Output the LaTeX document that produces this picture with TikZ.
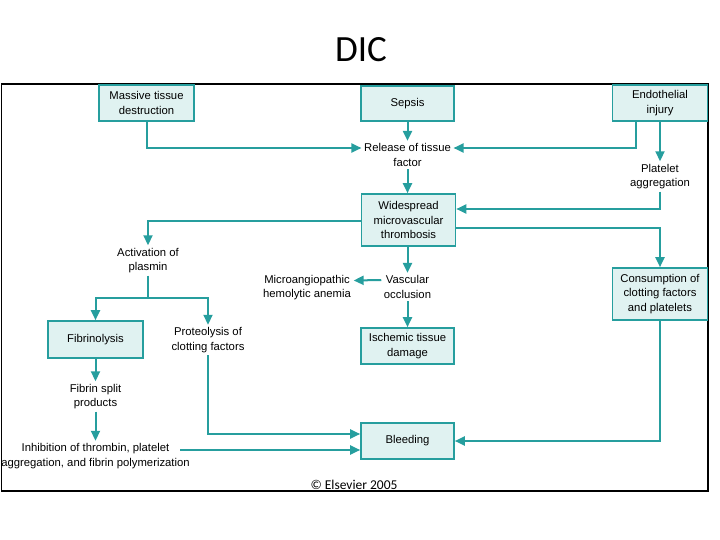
\documentclass[tikz,border=0pt]{standalone}
\usepackage{fontspec}
\setmainfont{Liberation Sans}
\newfontfamily\titlefont{Carlito}
\usetikzlibrary{arrows.meta,calc}
\definecolor{tealline}{RGB}{38,158,158}
\definecolor{tealfill}{RGB}{224,242,241}
\tikzset{
  boxnode/.style={draw=tealline, fill=tealfill, line width=1.6pt, align=center,
    inner sep=0pt, font=\fontsize{11.3}{14.5}\selectfont},
  txtnode/.style={align=center, inner sep=2.5pt, font=\fontsize{11.3}{14.5}\selectfont},
  arr/.style={draw=tealline, line width=2pt, -{Triangle[length=10pt,width=9pt]}},
  ln/.style={draw=tealline, line width=2pt},
}
\begin{document}
\begin{tikzpicture}[x=1pt,y=-1pt]
\useasboundingbox (0,0) rectangle (720,540);
% title
\node[font=\titlefont\fontsize{37}{40}\selectfont] (title) at (361,50) {DIC};
% frame
\draw[line width=1.2pt] (1.5,84) rectangle (708,491);
% boxes
\node[boxnode, minimum width=95pt, minimum height=36pt] (mass) at (146.5,103) {Massive tissue\\destruction};
\node[boxnode, minimum width=93pt, minimum height=35pt] (sepsis) at (407.5,103.5) {Sepsis};
\node[boxnode, minimum width=95pt, minimum height=36pt] (endo) at (660,103) {Endothelial\\injury};
\node[boxnode, minimum width=94pt, minimum height=52pt] (wide) at (408.5,220) {Widespread\\microvascular\\thrombosis};
\node[boxnode, minimum width=95pt, minimum height=52pt] (cons) at (660,294) {Consumption of\\clotting factors\\and platelets};
\node[boxnode, minimum width=93pt, minimum height=36pt] (isch) at (407.5,346) {Ischemic tissue\\damage};
\node[boxnode, minimum width=93pt, minimum height=36pt] (bleed) at (407.5,441) {Bleeding};
\node[boxnode, minimum width=95pt, minimum height=37pt] (fibl) at (95.5,339.5) {Fibrinolysis};
% text nodes
\node[txtnode] (rel) at (407.5,155) {Release of tissue\\factor};
\node[txtnode] (plat) at (660,176.5) {Platelet\\aggregation};
\node[txtnode] (act) at (148,260.5) {Activation of\\plasmin};
\node[txtnode] (micro) at (307,287.5) {Microangiopathic\\hemolytic anemia};
\node[txtnode] (vasc) at (407.5,287) {Vascular\\occlusion};
\node[txtnode] (prot) at (208,340) {Proteolysis of\\clotting factors};
\node[txtnode] (split) at (95.5,396.5) {Fibrin split\\products};
\node[txtnode] (inhib) at (95.5,456) {Inhibition of thrombin, platelet\\aggregation, and fibrin polymerization};
\node[font=\titlefont\fontsize{13.5}{15}\selectfont, inner sep=0pt] (copy) at (354,484.5) {© Elsevier 2005};
% connectors
\draw[arr] (mass.south) |- ([yshift=7pt]rel.west);
\draw[arr] (sepsis.south) -- (rel.north);
\draw[arr] ([xshift=-24pt]endo.south) |- ([yshift=7pt]rel.east);
\draw[arr] (endo.south) -- (plat.north);
\draw[arr] (rel.south) -- (rel.south |- wide.north);
\draw[arr] (plat.south) |- ([yshift=11pt]wide.east);
\draw[arr] ([yshift=-8pt]wide.east) -| (cons.north);
\draw[arr] ([yshift=-1pt]wide.west) -| (act.north);
\draw[arr] (vasc.north |- wide.south) -- (vasc.north);
\draw[arr] ([yshift=7pt]vasc.west) -- ([yshift=7pt]micro.east);
\draw[arr] (vasc.south) -- (isch.north);
\coordinate (fork) at (148,298);
\draw[ln] (act.south) -- (fork);
\draw[arr] (fork) -| (fibl.north);
\draw[arr] (fork) -| (prot.north);
\draw[arr] (fibl.south) -- (split.north);
\draw[arr] (split.south) -- (inhib.north);
\draw[arr] (prot.south) |- ([yshift=7pt]bleed.west);
\coordinate (istart) at ([shift={(-12pt,6pt)}]inhib.east);
\draw[arr] (istart) -- (istart -| bleed.west);
\draw[arr] (cons.south) |- (bleed.east);
\end{tikzpicture}
\end{document}
